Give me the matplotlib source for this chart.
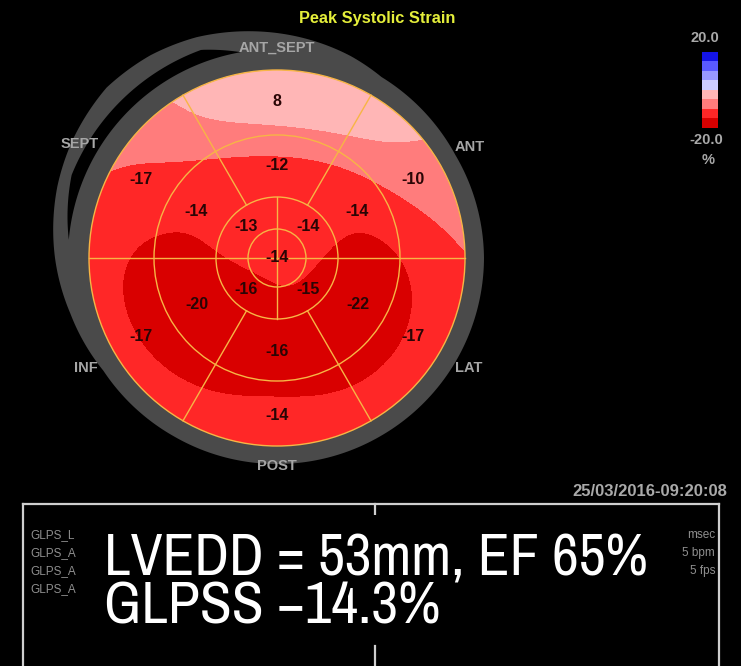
import numpy as np
import matplotlib
matplotlib.use("Agg")
import matplotlib.pyplot as plt
from matplotlib.patches import Circle, Polygon, Rectangle
from matplotlib.colors import ListedColormap, BoundaryNorm
from matplotlib.font_manager import FontProperties
from matplotlib import font_manager

# ---- segment peak systolic strain values (%) ----
wall_names = ["ANT_SEPT", "ANT", "LAT", "POST", "INF", "SEPT"]
wall_angles = [90, 30, -30, -90, -150, 150]          # centre of each wall, degrees
basal_vals = [8, -10, -17, -14, -17, -17]
mid_vals = [-12, -14, -22, -16, -20, -14]
apical_angles = [135, 45, -45, -135]
apical_vals = [-13, -14, -15, -16]
apex_val = -14

# ---- colour scale ----
scale_levels = [-20, -15, -10, -5, 0, 5, 10, 15, 20]
scale_colors = ["#d90000", "#ff2727", "#ff7c7c", "#ffb6b6",
                "#cdcdff", "#9898ff", "#5a5aff", "#1414e6"]
scale_top, scale_bottom, scale_unit = "20.0", "-20.0", "%"

title = "Peak Systolic Strain"
timestamp = "25/03/2016-09:20:08"
summary_lines = ["LVEDD = 53mm, EF 65%", "GLPSS \u221214.3%"]
side_left = ["GLPS_L", "GLPS_A", "GLPS_A", "GLPS_A"]
side_right = ["msec", "5 bpm", "5 fps"]

# ---- layout (pixel space) ----
W, H = 741, 666
cx, cy = 277, 258
R_apex, R_apical, R_mid, R = 29, 61, 123, 188

fig = plt.figure(figsize=(W / 100, H / 100), dpi=100, facecolor="black")
ax = fig.add_axes([0, 0, 1, 1])
ax.set_xlim(0, W)
ax.set_ylim(H, 0)
ax.set_facecolor("black")
ax.axis("off")

names = {f.name for f in font_manager.fontManager.ttflist}
base_font = "Liberation Sans" if "Liberation Sans" in names else "DejaVu Sans"


def find_face(tag):
    for f in font_manager.fontManager.ttflist:
        if tag in f.name and f.style == "normal" and f.weight in (400, "normal", "regular"):
            return f.fname
    return None


# condensed face for the large annotation
narrow_file = find_face("Narrow")
if narrow_file:
    big_font = FontProperties(fname=narrow_file, size=42)
else:
    cond_file = find_face("Condensed")
    if cond_file:
        big_font = FontProperties(fname=cond_file, size=35)
    else:
        big_font = FontProperties(family=base_font, size=35)


def to_xy(r, deg):
    t = np.deg2rad(deg)
    return cx + r * np.cos(t), cy - r * np.sin(t)


# ---- grey surround with the detached arc on the septal side ----
th = np.arange(0, 361, 1.0)
key_a = [0, 30, 60, 70, 80, 90, 100, 110, 122, 135, 150, 162, 180, 195, 213, 240, 300, 360]
key_r = [207, 206, 209, 215, 220, 225, 230, 235, 239, 241, 236, 231, 222, 214, 207, 206, 206, 207]
r_out = np.interp(th, key_a, key_r)
gx, gy = to_xy(r_out, th)
ax.add_patch(Polygon(np.column_stack([gx, gy]), closed=True, fc="#4a4a4a", ec="none", zorder=1))

ga = np.linspace(100, 175, 120)
gw = 12.5 * np.clip((ga - 100) / 10, 0, 1) * np.clip((175 - ga) / 17, 0, 1)
r_lo = 209 + 0 * ga
r_hi = r_lo + gw
x1, y1 = to_xy(r_lo, ga)
x2, y2 = to_xy(r_hi, ga)
ax.add_patch(Polygon(np.column_stack([np.r_[x1, x2[::-1]], np.r_[y1, y2[::-1]]]),
                     closed=True, fc="black", ec="none", zorder=2))


# ---- smooth strain field: per-ring angular profiles blended radially ----
def ring_profile(theta, centers, vals, span, sig):
    a, v = [], []
    for c, val in zip(centers, vals):
        for d in np.linspace(-0.42 * span, 0.42 * span, 7):
            a.append(c + d)
            v.append(val)
    a, v = np.array(a), np.array(v)
    diff = (theta[..., None] - a + 180) % 360 - 180
    w = np.exp(-diff ** 2 / (2 * sig ** 2))
    return (w * v).sum(-1) / w.sum(-1)


def blur(a, s):
    n = int(3 * s)
    k = np.exp(-np.arange(-n, n + 1) ** 2 / (2.0 * s * s))
    k /= k.sum()
    f = lambda m: np.convolve(np.pad(m, n, mode="edge"), k, mode="valid")
    return np.apply_along_axis(f, 1, np.apply_along_axis(f, 0, a))


N = 420
gxs = np.linspace(cx - R - 3, cx + R + 3, N)
gys = np.linspace(cy - R - 3, cy + R + 3, N)
GX, GY = np.meshgrid(gxs, gys)
rr = np.hypot(GX - cx, GY - cy)
tt = np.degrees(np.arctan2(-(GY - cy), GX - cx))

p_ap = ring_profile(tt, apical_angles, apical_vals, 90, 20)
p_mid = ring_profile(tt, wall_angles, mid_vals, 60, 20)
p_bas = ring_profile(tt, wall_angles, basal_vals, 60, 36)
k1, k2, k3 = 45.0, 92.0, 158.0
field = np.where(
    rr < k1, apex_val + (p_ap - apex_val) * rr / k1,
    np.where(rr < k2, p_ap + (p_mid - p_ap) * (rr - k1) / (k2 - k1),
             np.where(rr < k3, p_mid + (p_bas - p_mid) * (rr - k2) / (k3 - k2), p_bas)))
# strain fades towards the epicardial rim
field = field * (1 - 0.2 * np.clip(rr / R, 0, 1.05) ** 6)
step = gxs[1] - gxs[0]
field = blur(field, 16.0 / step)

cmap = ListedColormap(scale_colors)
norm = BoundaryNorm(scale_levels, cmap.N, clip=True)
disc = Circle((cx, cy), R, fc="none", ec="none")
ax.add_patch(disc)
cs = ax.contourf(GX, GY, np.clip(field, -19.99, 19.99), levels=scale_levels,
                 cmap=cmap, norm=norm, zorder=3)
cs.set_clip_path(disc)

# ---- segment grid ----
line_c = "#f7b545"
lw = 1.0
for rad in (R_apex, R_apical, R_mid, R):
    ax.add_patch(Circle((cx, cy), rad, fc="none", ec=line_c, lw=lw, zorder=5))
for a in (60, 120, 240, 300):
    xa, ya = to_xy(np.array([R_apical, R]), a)
    ax.plot(xa, ya, color=line_c, lw=lw, zorder=5)
xa, ya = to_xy(np.array([R, R]), np.array([0, 180]))
ax.plot(xa, ya, color=line_c, lw=lw, zorder=5)
xa, ya = to_xy(np.array([R_apical, R_apical]), np.array([90, 270]))
ax.plot(xa, ya, color=line_c, lw=lw, zorder=5)

# ---- segment values ----
val_kw = dict(ha="center", va="center", fontsize=11.5, fontweight="bold",
              color="#2a0505", family=base_font, zorder=6)
for a0, v in zip(wall_angles, basal_vals):
    x, y = to_xy(157, a0)
    ax.text(x, y, f"{v}", **val_kw)
for a0, v in zip(wall_angles, mid_vals):
    x, y = to_xy(93, a0)
    ax.text(x, y, f"{v}", **val_kw)
for a0, v in zip(apical_angles, apical_vals):
    x, y = to_xy(44, a0)
    ax.text(x, y, f"{v}", **val_kw)
ax.text(cx, cy, f"{apex_val}", **val_kw)

# ---- wall names ----
name_r = [210, 222, 221, 208, 221, 228]
for nm, a0, rad in zip(wall_names, wall_angles, name_r):
    x, y = to_xy(rad, a0)
    ax.text(x, y, nm, ha="center", va="center", fontsize=10.5, fontweight="bold",
            color="#a6a6a6", family=base_font, zorder=7)

# ---- title ----
ax.text(377, 18, title, ha="center", va="center", fontsize=11.8, fontweight="bold",
        color="#e4ee3a", family=base_font)

# ---- colour bar ----
bx0, bx1, by0, by1 = 702, 718, 52, 128
mids = (np.array(scale_levels[:-1]) + np.array(scale_levels[1:])) / 2
ax.imshow(mids[::-1].reshape(-1, 1), cmap=cmap, norm=norm, aspect="auto",
          extent=(bx0, bx1, by1, by0), interpolation="nearest", zorder=3)
lab_kw = dict(ha="center", va="center", fontsize=10.5, fontweight="bold",
              color="#a9a9a9", family=base_font)
ax.text(705, 38, scale_top, **lab_kw)
ax.text(706, 140, scale_bottom, **lab_kw)
ax.text(708, 160, scale_unit, **lab_kw)

# ---- timestamp and info box ----
ax.text(727, 492, timestamp, ha="right", va="center", fontsize=12, fontweight="bold",
        color="#a9a9a9", family=base_font)
box_c = "#cfcfcf"
ax.plot([23, 23], [H, 504], color=box_c, lw=1.6)
ax.plot([23, 719], [504, 504], color=box_c, lw=1.6)
ax.plot([719, 719], [504, H], color=box_c, lw=1.6)
ax.plot([375, 375], [504, 518], color=box_c, lw=1.6)
ax.plot([375, 375], [646, H], color=box_c, lw=1.6)

for i, s in enumerate(side_left):
    ax.text(30, 535 + 18 * i, s, ha="left", va="center", fontsize=8.5,
            color="#8f8f8f", family=base_font)
for i, s in enumerate(side_right):
    ax.text(715, 535 + 18 * i, s, ha="right", va="center", fontsize=8.5,
            color="#8f8f8f", family=base_font)

ax.add_patch(Rectangle((82, 515), 590, 125, fc="black", ec="none", zorder=8))
for i, s in enumerate(summary_lines):
    ax.text(104, 559 + 48 * i, s, ha="left", va="center", fontproperties=big_font,
            color="white", zorder=9)

fig.savefig("out.png", dpi=100, facecolor="black")
